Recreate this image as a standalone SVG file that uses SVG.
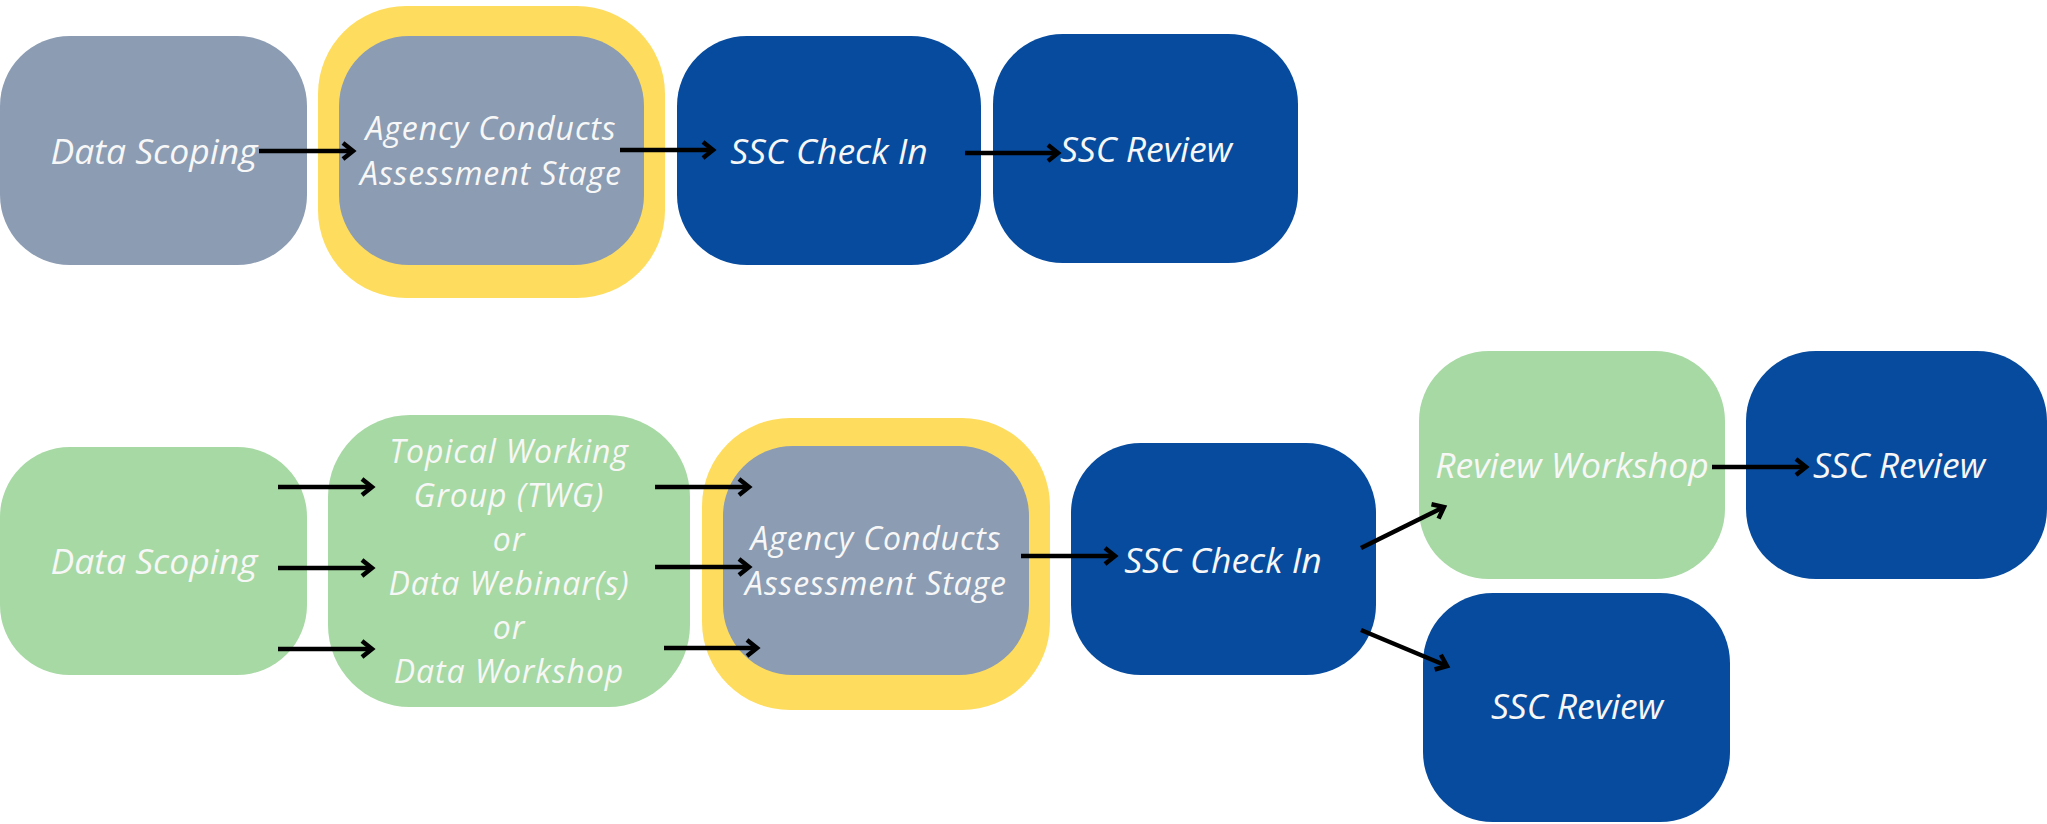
<svg xmlns="http://www.w3.org/2000/svg" width="2047" height="824" viewBox="0 0 2047 824">
<defs>
<style>
.gray{fill:#8B9CB3}
.blue{fill:#064B9E}
.green{fill:#A6D9A3}
.yellow{fill:#FEDC5E}
.t{font-family:"Open Sans","Noto Sans","Liberation Sans",sans-serif;font-style:italic;font-size:35.5px;fill:#F7F7F7;text-anchor:middle}
.m{font-size:32px;letter-spacing:0.9px}
.c{stroke:#000;stroke-width:4.5;fill:none;stroke-linecap:butt}
</style>
<marker id="ah" markerUnits="userSpaceOnUse" markerWidth="18" markerHeight="22" refX="12" refY="9" orient="auto" viewBox="0 0 18 18">
<path d="M2,1 L12,9 L2,17" fill="none" stroke="#000" stroke-width="4.5"/>
</marker>
</defs>
<rect width="2047" height="824" fill="#FFFFFF"/>

<g id="top-data-scoping">
<rect class="gray" x="0" y="36" width="307" height="229" rx="70"/>
<text class="t" x="154" y="164">Data Scoping</text>
</g>
<g id="top-agency">
<rect class="yellow" x="318" y="6" width="347" height="292" rx="88"/>
<rect class="gray" x="339" y="36" width="305" height="229" rx="70"/>
<text class="t m" x="491" y="140">Agency Conducts</text>
<text class="t m" x="491" y="185">Assessment Stage</text>
</g>
<g id="top-ssc-check-in">
<rect class="blue" x="677" y="36" width="304" height="229" rx="70"/>
<text class="t" x="829" y="164">SSC Check In</text>
</g>
<g id="top-ssc-review">
<rect class="blue" x="993" y="34" width="305" height="229" rx="70"/>
<text class="t" x="1146" y="162">SSC Review</text>
</g>

<g id="bot-data-scoping">
<rect class="green" x="0" y="447" width="307" height="228" rx="70"/>
<text class="t" x="154" y="574">Data Scoping</text>
</g>
<g id="bot-twg">
<rect class="green" x="328" y="415" width="362" height="292" rx="82"/>
<text class="t m" x="509" y="463">Topical Working</text>
<text class="t m" x="509" y="507">Group (TWG)</text>
<text class="t m" x="509" y="551">or</text>
<text class="t m" x="509" y="595">Data Webinar(s)</text>
<text class="t m" x="509" y="639">or</text>
<text class="t m" x="509" y="683">Data Workshop</text>
</g>
<g id="bot-agency">
<rect class="yellow" x="702" y="418" width="348" height="292" rx="88"/>
<rect class="gray" x="723" y="446" width="306" height="229" rx="70"/>
<text class="t m" x="876" y="550">Agency Conducts</text>
<text class="t m" x="876" y="595">Assessment Stage</text>
</g>
<g id="bot-ssc-check-in">
<rect class="blue" x="1071" y="443" width="305" height="232" rx="70"/>
<text class="t" x="1223" y="573">SSC Check In</text>
</g>
<g id="bot-review-workshop">
<rect class="green" x="1419" y="351" width="306" height="228" rx="70"/>
<text class="t" x="1572" y="478">Review Workshop</text>
</g>
<g id="bot-ssc-review-right">
<rect class="blue" x="1746" y="351" width="301" height="228" rx="70"/>
<text class="t" x="1899" y="478">SSC Review</text>
</g>
<g id="bot-ssc-review-lower">
<rect class="blue" x="1423" y="593" width="307" height="229" rx="70"/>
<text class="t" x="1577" y="719">SSC Review</text>
</g>

<g id="connectors">
<line class="c" x1="259" y1="151" x2="353" y2="151" marker-end="url(#ah)"/>
<line class="c" x1="620" y1="150" x2="713" y2="150" marker-end="url(#ah)"/>
<line class="c" x1="965" y1="153" x2="1058" y2="153" marker-end="url(#ah)"/>
<line class="c" x1="278" y1="487" x2="372" y2="487" marker-end="url(#ah)"/>
<line class="c" x1="278" y1="568" x2="372" y2="568" marker-end="url(#ah)"/>
<line class="c" x1="278" y1="649" x2="372" y2="649" marker-end="url(#ah)"/>
<line class="c" x1="655" y1="487" x2="749" y2="487" marker-end="url(#ah)"/>
<line class="c" x1="655" y1="567" x2="749" y2="567" marker-end="url(#ah)"/>
<line class="c" x1="664" y1="648" x2="757" y2="648" marker-end="url(#ah)"/>
<line class="c" x1="1021" y1="556" x2="1115" y2="556" marker-end="url(#ah)"/>
<line class="c" x1="1361" y1="548" x2="1444" y2="507" marker-end="url(#ah)"/>
<line class="c" x1="1361" y1="630" x2="1447" y2="666" marker-end="url(#ah)"/>
<line class="c" x1="1712" y1="467" x2="1806" y2="467" marker-end="url(#ah)"/>
</g>
</svg>
